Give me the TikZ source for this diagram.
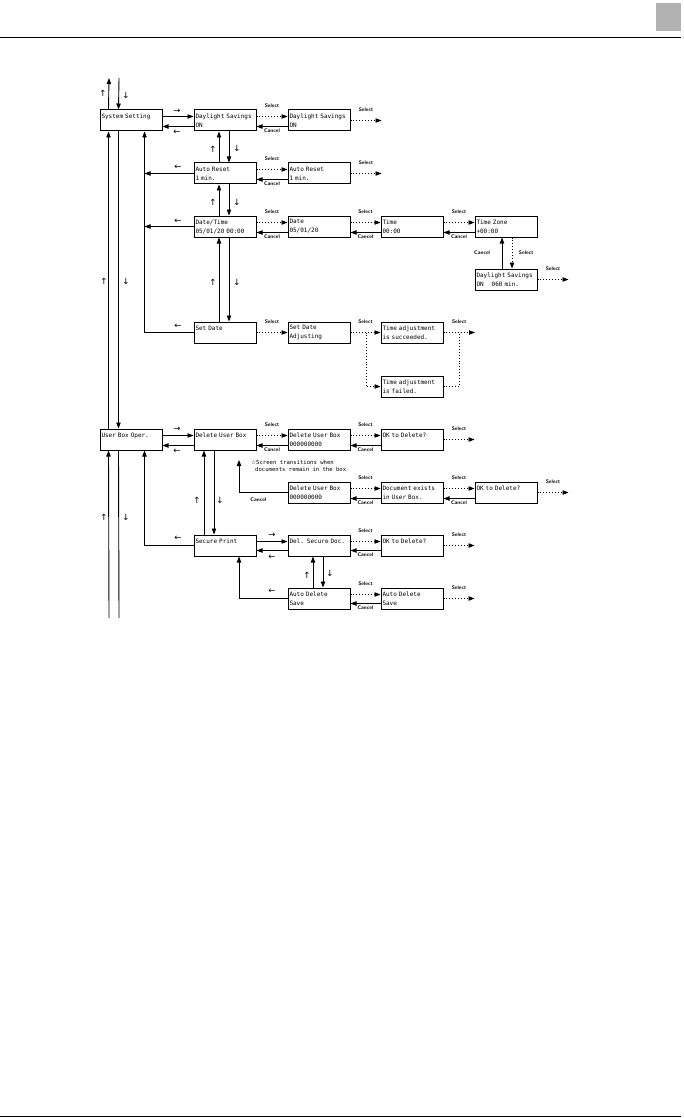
\documentclass[tikz,border=0pt]{standalone}
\usepackage{fontspec}
\setmonofont{DejaVu Sans Mono}
\newfontfamily\symfont{DejaVu Sans}
\usetikzlibrary{arrows.meta,positioning,calc}
\definecolor{tabGray}{RGB}{178,178,178}

\begin{document}
\begin{tikzpicture}[x=1pt,y=-1pt,
      blk/.style={draw,line width=1pt,minimum width=62pt,minimum height=21pt,
                  text width=59pt,inner sep=1.5pt,align=left,
                  font=\ttfamily\fontsize{6}{9}\selectfont},
      arr/.style={-{Triangle[length=6pt,width=4.4pt]},line width=0.9pt},
      sel/.style={arr,dotted},
      lbl/.style={font=\sffamily\bfseries\fontsize{5.2}{5.2}\selectfont,inner sep=0.5pt},
      dir/.style={font=\symfont\fontsize{8.5}{8.5}\selectfont,inner sep=0pt},
      note/.style={font=\ttfamily\fontsize{5.6}{7.5}\selectfont,align=left,inner sep=0pt}]
    \useasboundingbox (0,0) rectangle (683,1118);
    % page header and footer
    \fill[tabGray] (656,3) rectangle (681,31);
    \draw[line width=1pt] (0,38) -- (681,38);
    \draw[line width=1pt] (0,1116) -- (681,1116);

    % system setting screens
    \node[blk] (sys) at (131,120.5) {System Setting\\\mbox{}};
    \node[blk] (ds1) at (225,120.5) {Daylight Savings\\ON};
    \node[blk] (ds2) at (319,120.5) {Daylight Savings\\ON};
    \node[blk] (ar1) at (225,173.5) {Auto Reset\\1 min.};
    \node[blk] (ar2) at (319,173.5) {Auto Reset\\1 min.};
    \node[blk] (dt) at (225,226.5) {Date/Time\\05/01/20 00:00};
    \node[blk] (date) at (319,226.5) {Date\\05/01/20};
    \node[blk] (time) at (412,226.5) {Time\\00:00};
    \node[blk] (tz) at (506,226.5) {Time Zone\\+00:00};
    \node[blk] (dls) at (506,279.5) {Daylight Savings\\ON\ \ \ \ 060 min.};
    \node[blk] (sd) at (225,332.5) {Set Date\\\mbox{}};
    \node[blk] (sda) at (319,332.5) {Set Date\\Adjusting};
    \node[blk] (tas) at (412,332.5) {Time adjustment\\is succeeded.};
    \node[blk] (taf) at (412,386.5) {Time adjustment\\is failed.};

    % user box screens
    \node[blk] (ubo) at (131,439.5) {User Box Oper.\\\mbox{}};
    \node[blk] (dub) at (225,439.5) {Delete User Box\\\mbox{}};
    \node[blk] (dub2) at (319,439.5) {Delete User Box\\000000000};
    \node[blk] (ok1) at (412,439.5) {OK to Delete?\\\mbox{}};
    \node[blk] (dub3) at (319,492.5) {Delete User Box\\000000000};
    \node[blk] (doc) at (412,492.5) {Document exists\\in User Box.};
    \node[blk] (ok2) at (506,492.5) {OK to Delete?\\\mbox{}};
    \node[blk] (sp) at (225,545.5) {Secure Print\\\mbox{}};
    \node[blk] (dsd) at (319,545.5) {Del. Secure Doc.\\\mbox{}};
    \node[blk] (ok3) at (412,545.5) {OK to Delete?\\\mbox{}};
    \node[blk] (ad1) at (319,598.5) {Auto Delete\\Save};
    \node[blk] (ad2) at (412,598.5) {Auto Delete\\Save};
    \node[note,anchor=north west] (star) at (251,460)
      {{\symfont ☆}Screen transitions when\\\hspace*{4pt}documents remain in the box};

    % free ends
    \coordinate (busTopL) at (109,78);
    \coordinate (busTopR) at (119,78);
    \coordinate (busBotL) at (109,618);
    \coordinate (busBotR) at (119,618);
    \coordinate (busS) at ([xshift=45pt]sys.south west);
    \coordinate (busU) at ([xshift=45pt]ubo.south west);
    \coordinate (ds2x) at ([xshift=31pt]ds2.east);
    \coordinate (ar2x) at ([xshift=31pt]ar2.east);
    \coordinate (dlsx) at ([xshift=31pt]dls.east);
    \coordinate (brA) at (366,332.5);
    \coordinate (brB) at (459,332.5);
    \coordinate (tasx) at (475,332.5);
    \coordinate (ok1x) at ([xshift=31pt]ok1.east);
    \coordinate (ok2x) at ([xshift=31pt]ok2.east);
    \coordinate (ok3x) at ([xshift=31pt]ok3.east);
    \coordinate (ad2x) at ([xshift=31pt]ad2.east);
    \coordinate (starUp) at (239,460);

    % left bus
    \draw[arr] ([xshift=9pt]sys.north west) -- (busTopL);
    \draw[arr] (busTopR) -- ([xshift=19pt]sys.north west);
    \draw[arr] ([xshift=9pt]ubo.north west) -- ([xshift=9pt]sys.south west);
    \draw[arr] ([xshift=19pt]sys.south west) -- ([xshift=19pt]ubo.north west);
    \draw[arr] (busBotL) -- ([xshift=9pt]ubo.south west);
    \draw[line width=0.9pt] ([xshift=19pt]ubo.south west) -- (busBotR);
    \draw[arr] (sd.west) -| (busS);
    \draw[arr] (ar1.west) -- (ar1.west -| busS);
    \draw[arr] (dt.west) -- (dt.west -| busS);
    \draw[arr] (sp.west) -| (busU);

    % system setting connectors
    \draw[arr] ([yshift=4pt]sys.east) -- ([yshift=4pt]ds1.west);
    \draw[arr] ([yshift=-6pt]ds1.west) -- ([yshift=-6pt]sys.east);
    \draw[sel] ([yshift=4pt]ds1.east) -- node[lbl,above=8pt]{Select} ([yshift=4pt]ds2.west);
    \draw[arr] ([yshift=-6pt]ds2.west) -- node[lbl,below=1.5pt]{Cancel} ([yshift=-6pt]ds1.east);
    \draw[sel] (ds2.east) -- node[lbl,above=8pt]{Select} (ds2x);
    \draw[sel] ([yshift=4pt]ar1.east) -- node[lbl,above=8pt]{Select} ([yshift=4pt]ar2.west);
    \draw[arr] ([yshift=-6pt]ar2.west) -- node[lbl,below=1.5pt]{Cancel} ([yshift=-6pt]ar1.east);
    \draw[sel] (ar2.east) -- node[lbl,above=8pt]{Select} (ar2x);
    \draw[sel] ([yshift=4pt]dt.east) -- node[lbl,above=8pt]{Select} ([yshift=4pt]date.west);
    \draw[arr] ([yshift=-6pt]date.west) -- node[lbl,below=1.5pt]{Cancel} ([yshift=-6pt]dt.east);
    \draw[sel] ([yshift=4pt]date.east) -- node[lbl,above=8pt]{Select} ([yshift=4pt]time.west);
    \draw[arr] ([yshift=-6pt]time.west) -- node[lbl,below=1.5pt]{Cancel} ([yshift=-6pt]date.east);
    \draw[sel] ([yshift=4pt]time.east) -- node[lbl,above=8pt]{Select} ([yshift=4pt]tz.west);
    \draw[arr] ([yshift=-6pt]tz.west) -- node[lbl,below=1.5pt]{Cancel} ([yshift=-6pt]time.east);
    \draw[arr] ([xshift=-4pt]dls.north) -- node[lbl,left=11pt]{Cancel} ([xshift=-4pt]tz.south);
    \draw[sel] ([xshift=6pt]tz.south) -- node[lbl,right=6pt]{Select} ([xshift=6pt]dls.north);
    \draw[sel] (dls.east) -- node[lbl,above=8pt]{Select} (dlsx);
    \foreach \a/\b in {ds1/ar1,ar1/dt,dt/sd}{
      \draw[arr] ([xshift=-6pt]\b.north) -- ([xshift=-6pt]\a.south);
      \draw[arr] ([xshift=4pt]\a.south) -- ([xshift=4pt]\b.north);
    }
    \draw[sel] (sd.east) -- node[lbl,above=8pt]{Select} (sda.west);
    \draw[sel] (sda.east) -- node[lbl,above=8pt]{Select} (tas.west);
    \draw[sel] (brA) |- (taf.west);
    \draw[sel] (tas.east) -- node[lbl,above=8pt]{Select} (tasx);
    \draw[dotted,line width=0.9pt] (taf.east) -| (brB);

    % user box connectors
    \draw[arr] ([yshift=4pt]ubo.east) -- ([yshift=4pt]dub.west);
    \draw[arr] ([yshift=-6pt]dub.west) -- ([yshift=-6pt]ubo.east);
    \draw[sel] ([yshift=4pt]dub.east) -- node[lbl,above=8pt]{Select} ([yshift=4pt]dub2.west);
    \draw[arr] ([yshift=-6pt]dub2.west) -- node[lbl,below=1.5pt]{Cancel} ([yshift=-6pt]dub.east);
    \draw[sel] ([yshift=4pt]dub2.east) -- node[lbl,above=8pt]{Select} ([yshift=4pt]ok1.west);
    \draw[arr] ([yshift=-6pt]ok1.west) -- node[lbl,below=1.5pt]{Cancel} ([yshift=-6pt]dub2.east);
    \draw[sel] (ok1.east) -- node[lbl,above=8pt]{Select} (ok1x);
    \draw[arr] (dub3.west) -| node[lbl,below=4pt,pos=0.3]{Cancel} (starUp);
    \draw[sel] ([yshift=4pt]dub3.east) -- node[lbl,above=8pt]{Select} ([yshift=4pt]doc.west);
    \draw[arr] ([yshift=-6pt]doc.west) -- node[lbl,below=1.5pt]{Cancel} ([yshift=-6pt]dub3.east);
    \draw[sel] ([yshift=4pt]doc.east) -- node[lbl,above=8pt]{Select} ([yshift=4pt]ok2.west);
    \draw[arr] ([yshift=-6pt]ok2.west) -- node[lbl,below=1.5pt]{Cancel} ([yshift=-6pt]doc.east);
    \draw[sel] (ok2.east) -- node[lbl,above=8pt]{Select} (ok2x);
    \draw[arr] ([xshift=-21pt]sp.north) -- ([xshift=-21pt]dub.south);
    \draw[arr] ([xshift=-11pt]dub.south) -- ([xshift=-11pt]sp.north);
    \draw[arr] ([yshift=4pt]sp.east) -- ([yshift=4pt]dsd.west);
    \draw[arr] ([yshift=-5pt]dsd.west) -- ([yshift=-5pt]sp.east);
    \draw[sel] ([yshift=4pt]dsd.east) -- node[lbl,above=8pt]{Select} ([yshift=4pt]ok3.west);
    \draw[arr] ([yshift=-5pt]ok3.west) -- node[lbl,below=1.5pt]{Cancel} ([yshift=-5pt]dsd.east);
    \draw[sel] (ok3.east) -- node[lbl,above=8pt]{Select} (ok3x);
    \draw[arr] ([xshift=-6pt]ad1.north) -- ([xshift=-6pt]dsd.south);
    \draw[arr] ([xshift=4pt]dsd.south) -- ([xshift=4pt]ad1.north);
    \draw[sel] ([yshift=4pt]ad1.east) -- node[lbl,above=8pt]{Select} ([yshift=4pt]ad2.west);
    \draw[arr] ([yshift=-5pt]ad2.west) -- node[lbl,below=1.5pt]{Cancel} ([yshift=-5pt]ad1.east);
    \draw[sel] (ad2.east) -- node[lbl,above=8pt]{Select} (ad2x);
    \draw[arr] (ad1.west) -| ([xshift=14pt]sp.south);

    % direction marks
    \node[dir] (m1) at (103,93) {↑};
    \node[dir] (m2) at (126,95) {↓};
    \node[dir] (m3) at (177,111) {→};
    \node[dir] (m4) at (177,132) {←};
    \node[dir] (m5) at (213,149) {↑};
    \node[dir] (m6) at (237,148) {↓};
    \node[dir] (m7) at (178,167) {←};
    \node[dir] (m8) at (213,202) {↑};
    \node[dir] (m9) at (237,202) {↓};
    \node[dir] (m10) at (178,221) {←};
    \node[dir] (m11) at (213,282) {↑};
    \node[dir] (m12) at (237,282) {↓};
    \node[dir] (m13) at (104,281) {↑};
    \node[dir] (m14) at (126,281) {↓};
    \node[dir] (m15) at (178,326) {←};
    \node[dir] (m16) at (177,429) {→};
    \node[dir] (m17) at (177,451) {←};
    \node[dir] (m18) at (197,500) {↑};
    \node[dir] (m19) at (220,500) {↓};
    \node[dir] (m20) at (104,517) {↑};
    \node[dir] (m21) at (126,517) {↓};
    \node[dir] (m22) at (178,538) {←};
    \node[dir] (m23) at (272,535) {→};
    \node[dir] (m24) at (272,557) {←};
    \node[dir] (m25) at (307,575) {↑};
    \node[dir] (m26) at (330,573) {↓};
    \node[dir] (m27) at (272,591) {←};
  \end{tikzpicture}
\end{document}
